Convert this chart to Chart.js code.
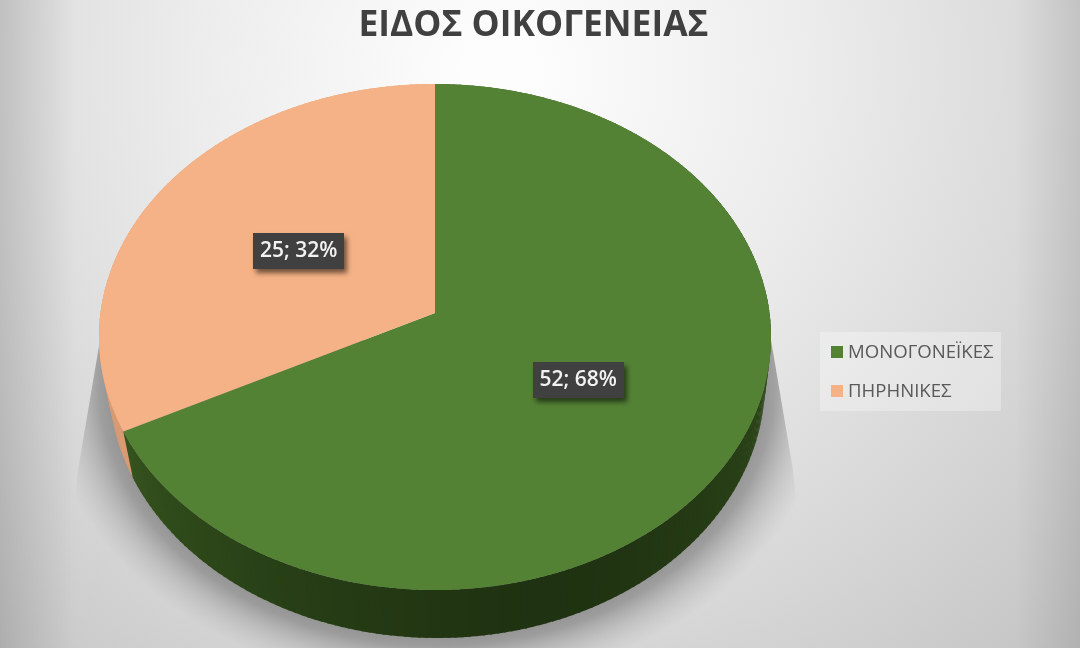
<!DOCTYPE html>
<html><head><meta charset="utf-8">
<script src="https://cdn.jsdelivr.net/npm/chart.js@4"></script>
<style>html,body{margin:0;padding:0;background:#fff}canvas{display:block;filter:blur(0.5px)}</style>
</head><body><canvas id="c" width="1080" height="648"></canvas>
<script>
const titleText = 'ΕΙΔΟΣ ΟΙΚΟΓΕΝΕΙΑΣ';
const categories = ['ΜΟΝΟΓΟΝΕΪΚΕΣ', 'ΠΗΡΗΝΙΚΕΣ'];
const seriesValues = [52, 25];
const sliceColors = ['#548235', '#F5B286'];

// perspective view of the pie's unit circle
const K = -0.0949;
const TOP = {cx: 435, c: 334.5, cy: 313, a: 250.7};
const LOW = {cx: 437, c: 326.5, cy: 357.7, a: 253.7};
function project(v, th, r = 1) {
  const x = r * Math.cos(th), y = r * Math.sin(th), w = 1 + K * y;
  return [v.cx + v.c * x / w, v.cy + v.a * y / w];
}
function mix(a, b, t) {
  return `rgb(${a.map((v, i) => Math.round(v + (b[i] - v) * t)).join(',')})`;
}
function wallColor(index, th) {
  // th grows clockwise from the right-hand side, PI/2 is the front of the pie
  const d = Math.min(1, Math.abs(th - 1.25) / 2.0);
  if (index === 1) return mix([226, 160, 118], [205, 140, 100], 1 - d);
  return mix([31, 50, 17], [66, 103, 38], Math.pow(d, 1.4));
}

const perspectivePie = {
  id: 'perspectivePie',
  beforeDraw(chart) {
    const {ctx, width, height} = chart;
    const g = ctx.createRadialGradient(500, 70, 30, 500, 70, 830);
    g.addColorStop(0, '#fdfdfd');
    g.addColorStop(0.35, '#ececec');
    g.addColorStop(0.7, '#d6d6d6');
    g.addColorStop(1, '#c2c2c2');
    ctx.fillStyle = g;
    ctx.fillRect(0, 0, width, height);
    // darker left and right borders
    const edge = ctx.createLinearGradient(0, 0, width, 0);
    edge.addColorStop(0, 'rgba(0,0,0,0.13)');
    edge.addColorStop(0.07, 'rgba(0,0,0,0)');
    edge.addColorStop(0.94, 'rgba(0,0,0,0)');
    edge.addColorStop(1, 'rgba(0,0,0,0.09)');
    ctx.fillStyle = edge;
    ctx.fillRect(0, 0, width, height);
    // soft cast shadow
    ctx.save();
    ctx.beginPath();
    ctx.moveTo(100, 340); ctx.lineTo(78, 470); ctx.lineTo(60, 648);
    ctx.lineTo(810, 648); ctx.lineTo(793, 470); ctx.lineTo(771, 340);
    ctx.closePath(); ctx.clip();
    ctx.translate(437, 382);
    ctx.scale(1, 256 / 328);
    const s = ctx.createRadialGradient(0, 0, 320, 0, 0, 392);
    s.addColorStop(0, 'rgba(120,120,120,0.75)');
    s.addColorStop(0.25, 'rgba(125,125,125,0.65)');
    s.addColorStop(0.6, 'rgba(150,150,150,0.35)');
    s.addColorStop(1, 'rgba(170,170,170,0)');
    ctx.fillStyle = s;
    ctx.beginPath(); ctx.arc(0, 0, 392, 0, Math.PI * 2); ctx.fill();
    ctx.restore();
    // legend panel
    ctx.fillStyle = 'rgba(255,255,255,0.3)';
    ctx.fillRect(820, 332, 181, 79);
    ctx.font = '18.6px "Open Sans"';
    ctx.textAlign = 'left'; ctx.textBaseline = 'middle';
    categories.forEach((name, i) => {
      const y = 346 + i * 39;
      ctx.fillStyle = sliceColors[i];
      ctx.fillRect(831, y, 12, 12);
      ctx.fillStyle = '#595959';
      ctx.fillText(name, 848, y + 6.5);
    });
  },
  afterLayout(chart) {
    const t = chart.titleBlock;
    t.left = 533.5 - 200; t.right = 533.5 + 200; t.top = 3; t.bottom = 49;
  },
  beforeDatasetsDraw(chart) {
    const {ctx} = chart;
    const arcs = chart.getDatasetMeta(0).data;
    // side wall
    arcs.forEach((el, i) => {
      const n = Math.ceil((el.endAngle - el.startAngle) / 0.02);
      for (let j = 0; j < n; j++) {
        const a = el.startAngle + (el.endAngle - el.startAngle) * j / n;
        const b = el.startAngle + (el.endAngle - el.startAngle) * (j + 1.3) / n;
        const pts = [project(TOP, a), project(TOP, b), project(LOW, b), project(LOW, a)];
        ctx.beginPath();
        pts.forEach((q, k) => k ? ctx.lineTo(q[0], q[1]) : ctx.moveTo(q[0], q[1]));
        ctx.closePath();
        ctx.fillStyle = wallColor(i, a);
        ctx.fill();
      }
    });
    // top face
    arcs.forEach((el, i) => {
      const n = 200;
      const apex = project(TOP, 0, 0);
      ctx.beginPath();
      ctx.moveTo(apex[0], apex[1]);
      for (let j = 0; j <= n; j++) {
        const q = project(TOP, el.startAngle + (el.endAngle - el.startAngle) * j / n);
        ctx.lineTo(q[0], q[1]);
      }
      ctx.closePath();
      ctx.fillStyle = sliceColors[i];
      ctx.fill();
    });
    // value labels
    const total = seriesValues.reduce((a, b) => a + b, 0);
    arcs.forEach((el, i) => {
      const q = project(TOP, (el.startAngle + el.endAngle) / 2, 0.49);
      const txt = `${seriesValues[i]}; ${Math.round(seriesValues[i] / total * 100)}%`;
      const w = 91, h = 36;
      ctx.save();
      ctx.shadowColor = 'rgba(0,0,0,0.55)';
      ctx.shadowBlur = 5; ctx.shadowOffsetX = 3; ctx.shadowOffsetY = 4;
      ctx.fillStyle = '#404040';
      ctx.fillRect(Math.round(q[0] - w / 2), Math.round(q[1] - h / 2) + 1, w, h);
      ctx.restore();
      ctx.fillStyle = '#f2f2f2';
      ctx.font = '600 21px "Open Sans"';
      ctx.textAlign = 'center'; ctx.textBaseline = 'middle';
      ctx.fillText(txt, q[0], q[1] + 1);
    });
    return false;
  }
};

new Chart(document.getElementById('c'), {
  type: 'pie',
  data: {
    labels: categories,
    datasets: [{data: seriesValues, backgroundColor: sliceColors, borderWidth: 0}]
  },
  options: {
    responsive: false,
    animation: false,
    devicePixelRatio: 1,
    plugins: {
      tooltip: {enabled: false},
      legend: {display: false},
      title: {
        display: true, text: titleText, align: 'center', color: '#404040',
        font: {family: '"Open Sans"', size: 35.4, weight: '700', lineHeight: 1.28},
        padding: 0
      }
    }
  },
  plugins: [perspectivePie]
});
</script></body></html>
